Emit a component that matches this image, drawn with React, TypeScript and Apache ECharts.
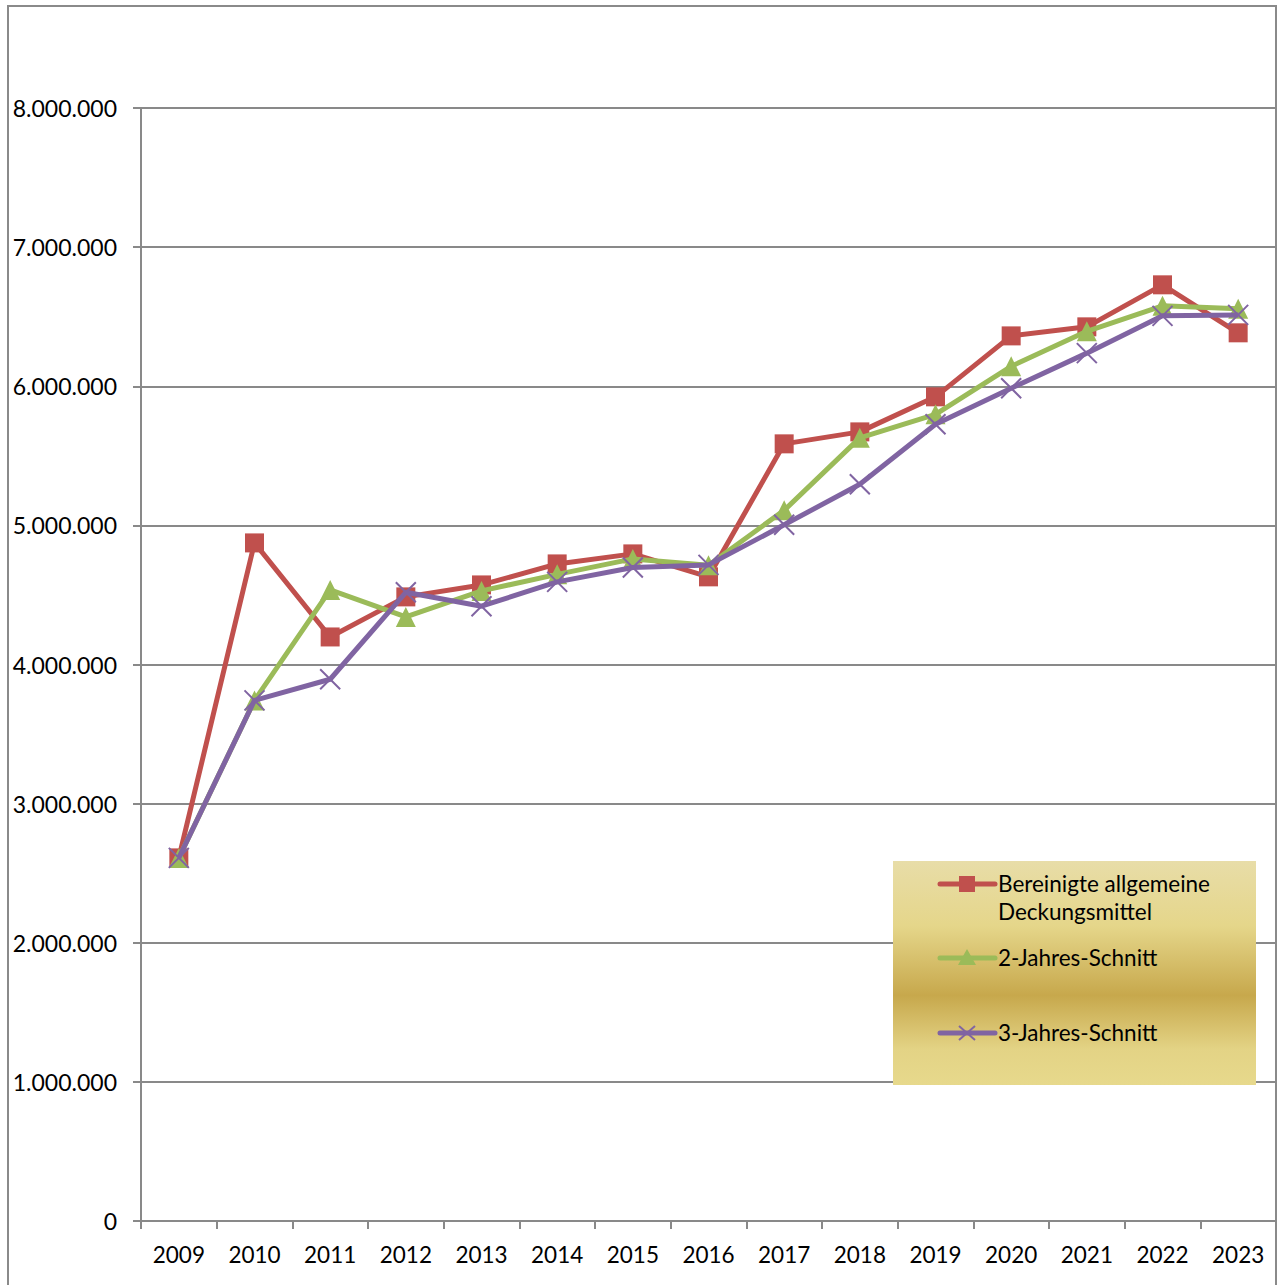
import React, { useEffect, useRef } from "react";
import * as echarts from "echarts";

const years = ["2009", "2010", "2011", "2012", "2013", "2014", "2015", "2016", "2017", "2018", "2019", "2020", "2021", "2022", "2023"];
const bereinigt = [2610000, 4874000, 4198000, 4486000, 4572000, 4723000, 4795000, 4630000, 5586000, 5672000, 5924000, 6362000, 6427000, 6729000, 6384000];
const zweiJahre = [2610000, 3742000, 4536000, 4342000, 4529000, 4648000, 4759000, 4713000, 5108000, 5629000, 5798000, 6143000, 6395000, 6578000, 6557000];
const dreiJahre = [2610000, 3742000, 3894000, 4519000, 4419000, 4594000, 4697000, 4716000, 5004000, 5296000, 5727000, 5986000, 6238000, 6506000, 6513000];
const seriesNames = ["Bereinigte allgemeine\nDeckungsmittel", "2-Jahres-Schnitt", "3-Jahres-Schnitt"];
const seriesColors = ["#C0504D", "#9BBB59", "#8064A2"];

const FONT = "Lato";
const X_PATH = "path://M0,0L10,10M10,0L0,10";

function fmt(v: number): string {
  return String(v).replace(/\B(?=(\d{3})+(?!\d))/g, ".");
}

export default function App() {
  const ref = useRef<HTMLDivElement>(null);
  useEffect(() => {
    if (!ref.current) return;
    const chart = echarts.init(ref.current, null, { renderer: "svg" });

    const lgX = 893, lgY = 861, lgW = 363, lgH = 224;
    const itemYs = [884, 958, 1033];
    const lineX1 = 940, lineX2 = 995, midX = 967, textX = 998;

    const legendEls: any[] = [
      {
        type: "rect",
        shape: { x: lgX, y: lgY, width: lgW, height: lgH },
        style: {
          fill: new echarts.graphic.LinearGradient(0, 0, 0, 1, [
            { offset: 0, color: "#E8DDA8" },
            { offset: 0.29, color: "#E5D68A" },
            { offset: 0.6, color: "#C7A84C" },
            { offset: 0.84, color: "#E3D385" },
            { offset: 1, color: "#E7D98C" },
          ]),
        },
        z: 10,
      },
    ];
    seriesNames.forEach((name, i) => {
      const y = itemYs[i];
      const c = seriesColors[i];
      legendEls.push({
        type: "line",
        shape: { x1: lineX1, y1: y, x2: lineX2, y2: y },
        style: { stroke: c, lineWidth: 5, lineCap: "round" },
        z: 11,
      });
      if (i === 0) {
        legendEls.push({ type: "rect", shape: { x: midX - 8, y: y - 8, width: 16, height: 16 }, style: { fill: c }, z: 12 });
      } else if (i === 1) {
        legendEls.push({ type: "polygon", shape: { points: [[midX, y - 9], [midX + 9, y + 7], [midX - 9, y + 7]] }, style: { fill: c }, z: 12 });
      } else {
        legendEls.push({ type: "line", shape: { x1: midX - 8, y1: y - 7, x2: midX + 8, y2: y + 7 }, style: { stroke: c, lineWidth: 2 }, z: 12 });
        legendEls.push({ type: "line", shape: { x1: midX - 8, y1: y + 7, x2: midX + 8, y2: y - 7 }, style: { stroke: c, lineWidth: 2 }, z: 12 });
      }
      legendEls.push({
        type: "text",
        x: textX,
        y: y - 15,
        style: { text: name, fill: "#000", font: `22.5px ${FONT}`, lineHeight: 28, textVerticalAlign: "top" },
        z: 12,
      });
    });

    const markers = [
      { symbol: "rect", symbolSize: 19 },
      { symbol: "triangle", symbolSize: 20 },
      { symbol: X_PATH, symbolSize: 20 },
    ];
    const datasets = [bereinigt, zweiJahre, dreiJahre];

    chart.setOption({
      animation: false,
      backgroundColor: "#ffffff",
      textStyle: { fontFamily: FONT },
      grid: { left: 141, right: 2, top: 108, bottom: 64, containLabel: false },
      xAxis: {
        type: "category",
        data: years,
        boundaryGap: true,
        axisLine: { lineStyle: { color: "#898989", width: 2 } },
        axisTick: { show: true, length: 8, interval: 0, lineStyle: { color: "#898989", width: 2 } },
        axisLabel: { color: "#000", fontSize: 22.5, fontFamily: FONT, margin: 22, interval: 0 },
      },
      yAxis: {
        type: "value",
        min: 0,
        max: 8000000,
        interval: 1000000,
        axisLine: { show: true, lineStyle: { color: "#898989", width: 2 } },
        axisTick: { show: true, length: 8, lineStyle: { color: "#898989", width: 2 } },
        axisLabel: { color: "#000", fontSize: 23, fontFamily: FONT, margin: 24, formatter: (v: number) => fmt(v) },
        splitLine: { show: true, lineStyle: { color: "#898989", width: 2 } },
      },
      series: datasets.map((d, i) => ({
        type: "line",
        name: seriesNames[i],
        data: d,
        symbol: markers[i].symbol,
        symbolSize: markers[i].symbolSize,
        lineStyle: { color: seriesColors[i], width: 5 },
        itemStyle: i === 2
          ? { color: seriesColors[i], borderColor: seriesColors[i], borderWidth: 2 }
          : { color: seriesColors[i], borderWidth: 0 },
        z: 2 + i,
      })),
      graphic: [
        {
          type: "rect",
          shape: { x: 8, y: 6, width: 1268, height: 1320 },
          style: { fill: "none", stroke: "#8A8A8A", lineWidth: 2 },
          silent: true,
          z: 0,
        },
        ...legendEls,
      ],
    });
    return () => chart.dispose();
  }, []);
  return (
    <div
      ref={ref}
      style={{ position: "fixed", left: 0, top: 0, width: 1278, height: 1285 }}
    />
  );
}
